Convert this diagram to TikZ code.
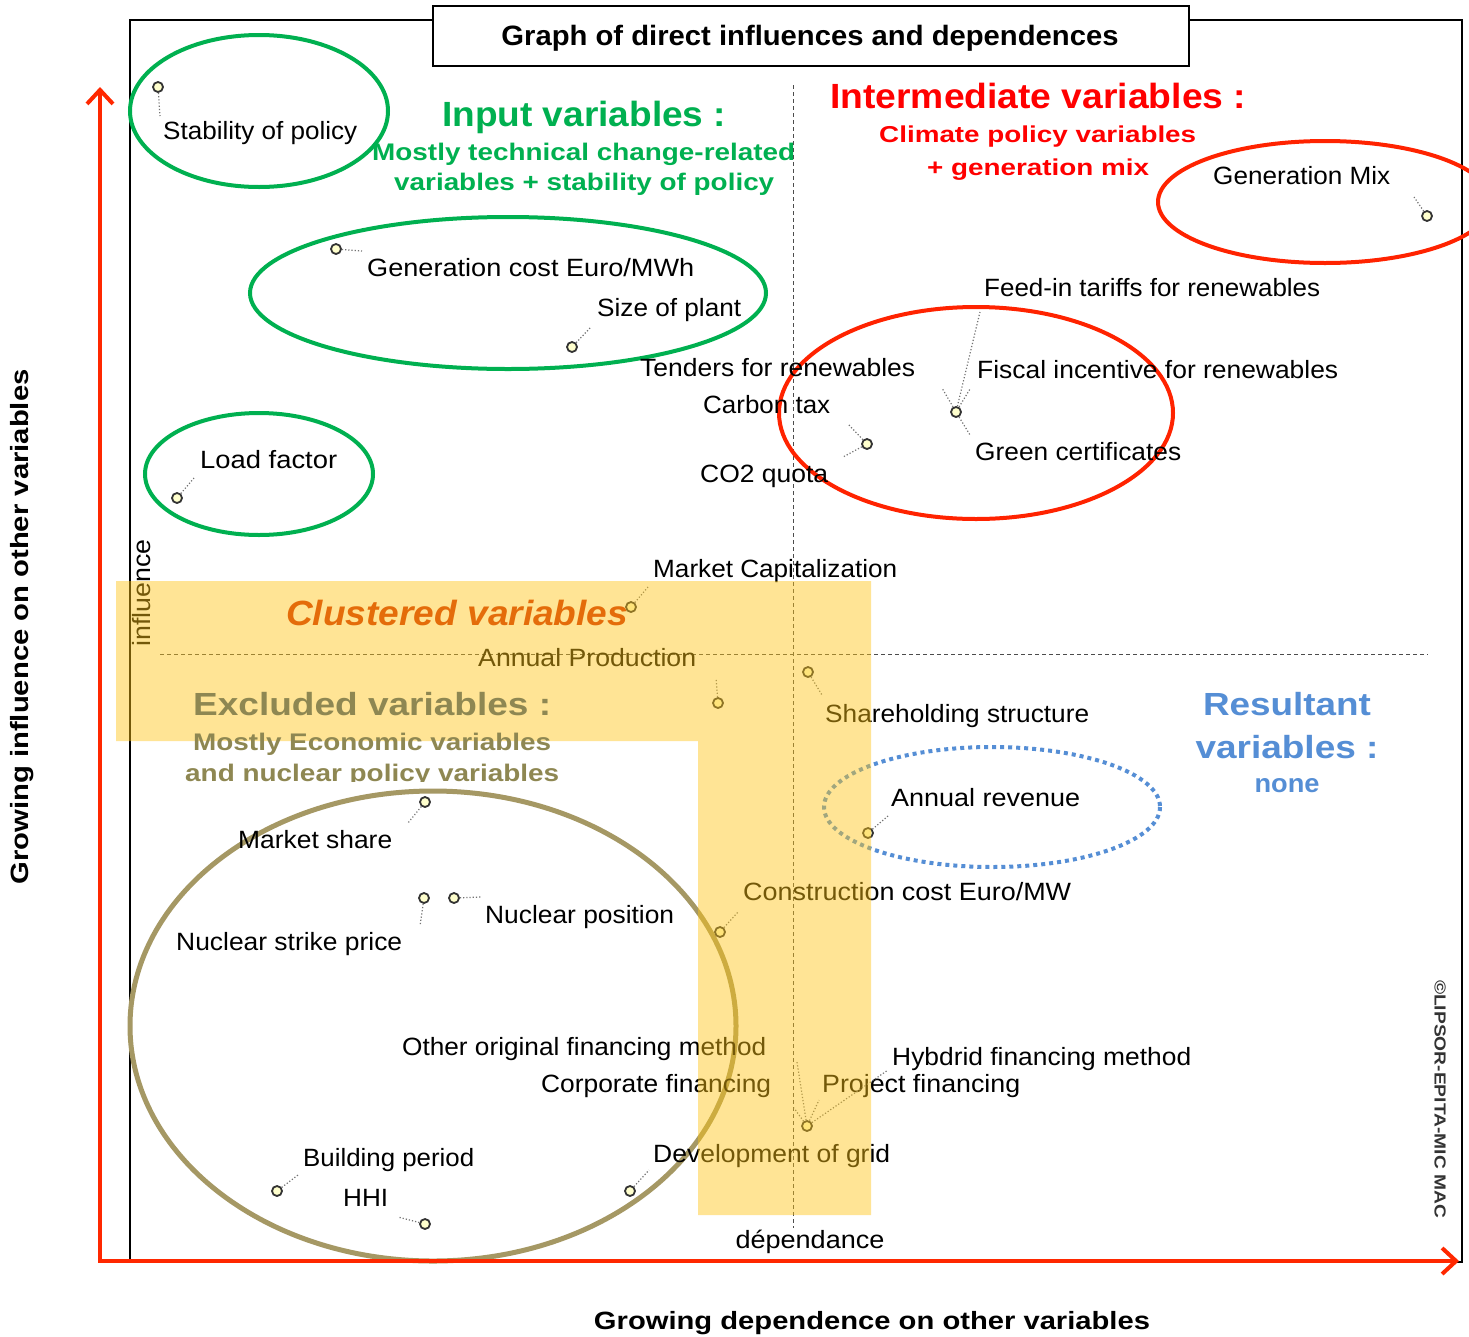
\documentclass[tikz,border=0pt]{standalone}
\usepackage{fontspec}
\setmainfont{Liberation Sans}
\usepackage{graphicx}
\usetikzlibrary{arrows.meta}
\definecolor{axred}{RGB}{255,40,0}
\definecolor{elred}{RGB}{255,35,0}
\definecolor{txtred}{RGB}{255,0,0}
\definecolor{ingreen}{RGB}{0,176,80}
\definecolor{olivec}{RGB}{165,152,100}
\definecolor{olivetxt}{RGB}{142,135,82}
\definecolor{resblue}{RGB}{85,142,213}
\definecolor{clorange}{RGB}{228,108,10}
\definecolor{clusteryellow}{RGB}{255,197,22}
\definecolor{dotfill}{RGB}{255,255,205}
\newcommand{\fitw}[2]{\resizebox{#1pt}{\height}{#2}}
\begin{document}
\begin{tikzpicture}[x=1pt,y=-1pt,
  lbl/.style={anchor=base west,inner sep=0,font=\fontsize{25}{30}\selectfont},
  hd/.style={anchor=base west,inner sep=0},
  hdc/.style={anchor=base,inner sep=0},
  vdot/.style={circle,draw=black!80,fill=dotfill,line width=1.8pt,minimum size=10pt,inner sep=0},
  leader/.style={draw=black!55,dotted,line width=1.2pt},
  grp/.style={line width=4pt},
  refline/.style={draw=black!70,dash pattern=on 4pt off 3pt,line width=1pt}]
\clip (0,0) rectangle (1469,1336);
\fill[white] (0,0) rectangle (1469,1336);

% frame
\draw[line width=2pt] (130,20) rectangle (1462,1262);

% reference dashed lines
\coordinate (vtop) at (793,85);
\coordinate (vbot) at (793,1228);
\coordinate (hleft) at (160,654);
\coordinate (hright) at (1428,654);
\draw[refline] (vtop) -- (vbot);
\draw[refline] (hleft) -- (hright);

% group ellipses
\draw[grp,ingreen] (259,111) ellipse [x radius=129, y radius=76];
\draw[grp,ingreen] (508,293) ellipse [x radius=258, y radius=76];
\draw[grp,ingreen] (259,474) ellipse [x radius=114, y radius=61];
\draw[grp,elred] (1325,202) ellipse [x radius=167, y radius=61];
\draw[grp,elred] (976,413) ellipse [x radius=197, y radius=106];
\draw[grp,resblue,line width=4pt,dash pattern=on 4pt off 4pt] (992,807) ellipse [x radius=168, y radius=60];
\draw[line width=5pt,olivec] (433,1026) ellipse [x radius=303, y radius=235];

% variable labels
\node[lbl] (tStab) at (163,139) {\fitw{194}{Stability of policy}};
\node[lbl] (tGen) at (367,276) {\fitw{327}{Generation cost Euro/MWh}};
\node[lbl] (tSize) at (597,316) {\fitw{144}{Size of plant}};
\node[lbl] (tTend) at (640,376) {\fitw{275}{Tenders for renewables}};
\node[lbl] (tCarb) at (703,413) {\fitw{127}{Carbon tax}};
\node[lbl] (tCO2) at (700,482) {\fitw{128}{CO2 quota}};
\node[lbl] (tFeed) at (984,296) {\fitw{336}{Feed-in tariffs for renewables}};
\node[lbl] (tFisc) at (977,378) {\fitw{361}{Fiscal incentive for renewables}};
\node[lbl] (tGreen) at (975,460) {\fitw{206}{Green certificates}};
\node[lbl] (tMix) at (1213,184) {\fitw{177}{Generation Mix}};
\node[lbl] (tLoad) at (200,468) {\fitw{137}{Load factor}};
\node[lbl] (tMCap) at (653,577) {\fitw{244}{Market Capitalization}};
\node[lbl] (tAProd) at (478,666) {\fitw{218}{Annual Production}};
\node[lbl] (tShare) at (825,722) {\fitw{264}{Shareholding structure}};
\node[lbl] (tARev) at (891,806) {\fitw{189}{Annual revenue}};
\node[lbl] (tConst) at (743,900) {\fitw{328}{Construction cost Euro/MW}};
\node[lbl] (tMShare) at (238,848) {\fitw{154}{Market share}};
\node[lbl] (tNPos) at (485,923) {\fitw{189}{Nuclear position}};
\node[lbl] (tNStr) at (176,950) {\fitw{226}{Nuclear strike price}};
\node[lbl] (tOther) at (402,1055) {\fitw{364}{Other original financing method}};
\node[lbl] (tCorp) at (541,1092) {\fitw{230}{Corporate financing}};
\node[lbl] (tHyb) at (892,1065) {\fitw{299}{Hybdrid financing method}};
\node[lbl] (tProj) at (822,1092) {\fitw{198}{Project financing}};
\node[lbl] (tDev) at (653,1162) {\fitw{237}{Development of grid}};
\node[lbl] (tBuild) at (303,1166) {\fitw{171}{Building period}};
\node[lbl] (tHHI) at (343,1206) {\fitw{45}{HHI}};

\node[inner sep=0,rotate=90,font=\fontsize{25}{30}\selectfont] (tInfl) at (142,593) {\fitw{107}{influence}};
\node[hdc,font=\fontsize{25}{30}\selectfont] (tDep) at (810,1248) {\fitw{149}{dépendance}};

% leader coordinates
\coordinate (lStab) at (160,116);
\coordinate (lGen) at (362,251);
\coordinate (lSize) at (591,327);
\coordinate (lCarb) at (848,424);
\coordinate (lCO2) at (843,457);
\coordinate (lFeed) at (980,312);
\coordinate (lFiscA) at (942,388);
\coordinate (lFiscB) at (970,389);
\coordinate (lGreen) at (970,435);
\coordinate (lMix) at (1414,197);
\coordinate (lLoad) at (194,478);
\coordinate (lMCap) at (648,587);
\coordinate (lAProd) at (716,678);
\coordinate (lShare) at (822,695);
\coordinate (lARev) at (888,816);
\coordinate (lConst) at (738,912);
\coordinate (lMShare) at (408,823);
\coordinate (lNStr) at (420,926);
\coordinate (lNPos) at (481,897);
\coordinate (lOther) at (797,1062);
\coordinate (lCorp) at (794,1108);
\coordinate (lProj) at (819,1100);
\coordinate (lHyb) at (888,1070);
\coordinate (lDev) at (649,1170);
\coordinate (lBuild) at (298,1175);
\coordinate (lHHI) at (398,1217);

% dots
\node[vdot] (dStab) at (158,87) {};
\node[vdot] (dGen) at (336,249) {};
\node[vdot] (dSize) at (572,347) {};
\node[vdot] (dCO2) at (867,444) {};
\node[vdot] (dFisc) at (956,412) {};
\node[vdot] (dMix) at (1427,216) {};
\node[vdot] (dLoad) at (177,498) {};
\node[vdot] (dMCap) at (631,607) {};
\node[vdot] (dAProd) at (718,703) {};
\node[vdot] (dShare) at (808,672) {};
\node[vdot] (dARev) at (868,833) {};
\node[vdot] (dConst) at (720,932) {};
\node[vdot] (dMShare) at (425,802) {};
\node[vdot] (dNStr) at (424,898) {};
\node[vdot] (dNPos) at (454,898) {};
\node[vdot] (dProj) at (807,1126) {};
\node[vdot] (dDev) at (630,1191) {};
\node[vdot] (dBuild) at (277,1191) {};
\node[vdot] (dHHI) at (425,1224) {};

% leaders
\draw[leader] (dStab) -- (lStab);
\draw[leader] (dGen) -- (lGen);
\draw[leader] (dSize) -- (lSize);
\draw[leader] (dCO2) -- (lCarb);
\draw[leader] (dCO2) -- (lCO2);
\draw[leader] (dFisc) -- (lFeed);
\draw[leader] (dFisc) -- (lFiscA);
\draw[leader] (dFisc) -- (lFiscB);
\draw[leader] (dFisc) -- (lGreen);
\draw[leader] (dMix) -- (lMix);
\draw[leader] (dLoad) -- (lLoad);
\draw[leader] (dMCap) -- (lMCap);
\draw[leader] (dAProd) -- (lAProd);
\draw[leader] (dShare) -- (lShare);
\draw[leader] (dARev) -- (lARev);
\draw[leader] (dConst) -- (lConst);
\draw[leader] (dMShare) -- (lMShare);
\draw[leader] (dNStr) -- (lNStr);
\draw[leader] (dNPos) -- (lNPos);
\draw[leader] (dProj) -- (lOther);
\draw[leader] (dProj) -- (lCorp);
\draw[leader] (dProj) -- (lProj);
\draw[leader] (dProj) -- (lHyb);
\draw[leader] (dDev) -- (lDev);
\draw[leader] (dBuild) -- (lBuild);
\draw[leader] (dHHI) -- (lHHI);

% clustered overlay
\fill[clusteryellow,fill opacity=0.45] (116,581) -- (871,581) -- (871,1215) -- (698,1215) -- (698,741) -- (116,741) -- cycle;

% headings
\node[draw=black,line width=2pt,fill=white,minimum width=756pt,minimum height=60pt,inner sep=0] (tbox) at (811,36) {};
\node[hdc,font=\bfseries\fontsize{28}{34}\selectfont] (title) at (810,45) {\fitw{617}{Graph of direct influences and dependences}};

\node[hd,ingreen,font=\bfseries\fontsize{35}{42}\selectfont] (inH) at (442,126) {\fitw{284}{Input variables :}};
\node[hd,ingreen,font=\bfseries\fontsize{24}{29}\selectfont] (inS1) at (372,160) {\fitw{423}{Mostly technical change-related}};
\node[hd,ingreen,font=\bfseries\fontsize{24}{29}\selectfont] (inS2) at (394,190) {\fitw{380}{variables + stability of policy}};

\node[hd,txtred,font=\bfseries\fontsize{35}{42}\selectfont] (imH) at (830,108) {\fitw{416}{Intermediate variables :}};
\node[hd,txtred,font=\bfseries\fontsize{23}{28}\selectfont] (imS1) at (879,142) {\fitw{317}{Climate policy variables}};
\node[hd,txtred,font=\bfseries\fontsize{23}{28}\selectfont] (imS2) at (927,175) {\fitw{222}{+ generation mix}};

\node[hd,clorange,font=\bfseries\itshape\fontsize{35}{42}\selectfont] (clH) at (286,625) {\fitw{342}{Clustered variables}};

\node[hd,olivetxt,font=\bfseries\fontsize{32}{38}\selectfont] (exH) at (193,715) {\fitw{358}{Excluded variables :}};
\node[hd,olivetxt,font=\bfseries\fontsize{24}{29}\selectfont] (exS1) at (193,750) {\fitw{358}{Mostly Economic variables}};
\begin{scope}
\clip (0,0) rectangle (1469,781);
\node[hd,olivetxt,font=\bfseries\fontsize{24}{29}\selectfont] (exS2) at (185,781) {\fitw{374}{and nuclear policy variables}};
\end{scope}

\node[hdc,resblue,font=\bfseries\fontsize{32}{38}\selectfont] (reH1) at (1287,715) {\fitw{168}{Resultant}};
\node[hdc,resblue,font=\bfseries\fontsize{32}{38}\selectfont] (reH2) at (1287,758) {\fitw{183}{variables :}};
\node[hdc,resblue,font=\bfseries\fontsize{26}{31}\selectfont] (reS) at (1287,792) {\fitw{65}{none}};

% copyright
\node[inner sep=0,rotate=-90,text=black!80,font=\bfseries\fontsize{16}{19}\selectfont] (copy) at (1440,1099) {\fitw{238}{©LIPSOR-EPITA-MIC MAC}};

% axes
\coordinate (ytip) at (100,87);
\coordinate (xtip) at (1459,1261);
\draw[axred,line width=4pt,{Straight Barb[length=14pt,width=26pt,line width=4pt]}-{Straight Barb[length=14pt,width=26pt,line width=4pt]}] (ytip) |- (xtip);

\node[inner sep=0,rotate=90,font=\bfseries\fontsize{25}{30}\selectfont] (yLab) at (22,627) {\fitw{515}{Growing influence on other variables}};
\node[hdc,font=\bfseries\fontsize{25}{30}\selectfont] (xLab) at (872,1329) {\fitw{556}{Growing dependence on other variables}};
\end{tikzpicture}
\end{document}
